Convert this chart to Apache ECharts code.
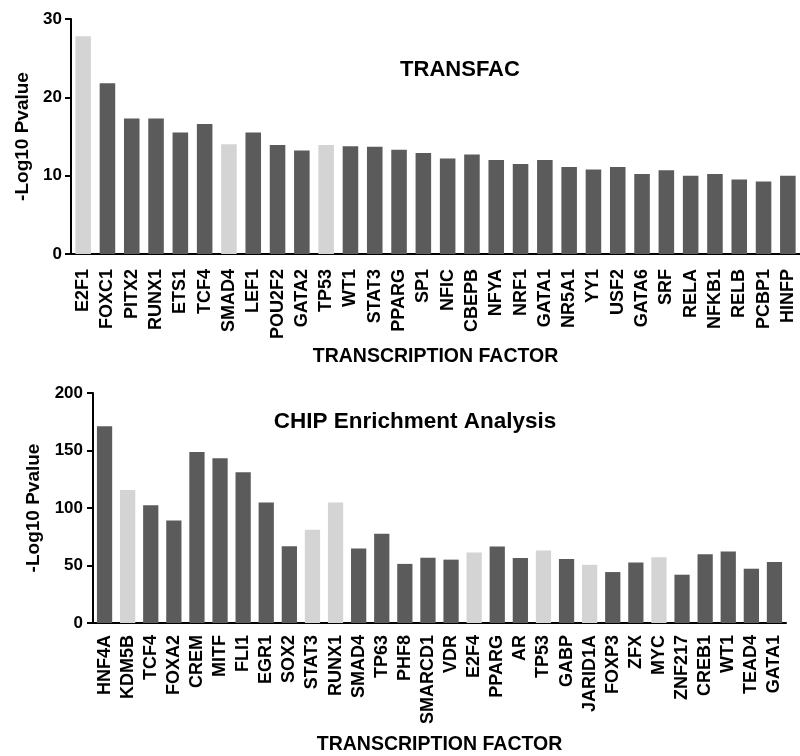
<!DOCTYPE html>
<html>
<head>
<meta charset="utf-8">
<script src="https://cdn.jsdelivr.net/npm/echarts@6/dist/echarts.min.js"></script>
<style>html,body{margin:0;padding:0;background:#fff}#c{width:800px;height:756px}</style>
</head>
<body>
<div id="c"></div>
<script>
var tfCategories = ['E2F1','FOXC1','PITX2','RUNX1','ETS1','TCF4','SMAD4','LEF1','POU2F2','GATA2','TP53','WT1','STAT3','PPARG','SP1','NFIC','CBEPB','NFYA','NRF1','GATA1','NR5A1','YY1','USF2','GATA6','SRF','RELA','NFKB1','RELB','PCBP1','HINFP'];
var tfValues = [27.8,21.8,17.3,17.3,15.5,16.6,14.0,15.5,13.9,13.2,13.9,13.75,13.7,13.3,12.9,12.2,12.7,12.0,11.5,12.0,11.1,10.8,11.1,10.2,10.7,10.0,10.2,9.5,9.25,10.0];
var tfHighlighted = ['E2F1','SMAD4','TP53'];
var tfTicks = [0,10,20,30];

var chipCategories = ['HNF4A','KDM5B','TCF4','FOXA2','CREM','MITF','FLI1','EGR1','SOX2','STAT3','RUNX1','SMAD4','TP63','PHF8','SMARCD1','VDR','E2F4','PPARG','AR','TP53','GABP','JARID1A','FOXP3','ZFX','MYC','ZNF217','CREB1','WT1','TEAD4','GATA1'];
var chipValues = [171,115.6,102.3,89.2,148.6,143.2,131,104.8,66.8,81,104.8,64.8,77.6,51.4,56.8,55.1,61.4,66.5,56.5,63,55.7,50.6,44.3,52.6,57.1,42,59.7,62.2,47.2,53.1];
var chipHighlighted = ['KDM5B','STAT3','RUNX1','E2F4','TP53','JARID1A','MYC'];
var chipTicks = [0,50,100,150,200];

var DARK = '#5b5b5b', LIGHT = '#d4d4d4';
var FONT = 'Liberation Sans, Arial, sans-serif';

function items(cats, vals, hi) {
  return vals.map(function (v, i) {
    return { value: v, itemStyle: { color: hi.indexOf(cats[i]) >= 0 ? LIGHT : DARK } };
  });
}

function xAx(gi, cats, gap, margin) {
  return {
    type: 'category', gridIndex: gi, data: cats,
    name: 'TRANSCRIPTION FACTOR', nameLocation: 'middle', nameGap: gap,
    nameTextStyle: { fontFamily: FONT, fontWeight: 'bold', fontSize: 19.5, color: '#000' },
    axisLine: { lineStyle: { color: '#000', width: 2 } },
    axisTick: { alignWithLabel: true, length: 6, lineStyle: { color: '#000', width: 2 } },
    axisLabel: { interval: 0, rotate: 90, margin: margin, fontFamily: FONT, fontWeight: 'bold', fontSize: 18, color: '#000' }
  };
}
function yAx(gi, max, interval, gap, margin) {
  return {
    type: 'value', gridIndex: gi, min: 0, max: max, interval: interval,
    name: '-Log10 Pvalue', nameLocation: 'middle', nameGap: gap,
    nameTextStyle: { fontFamily: FONT, fontWeight: 'bold', fontSize: 19, color: '#000' },
    splitLine: { show: false },
    axisLine: { show: true, lineStyle: { color: '#000', width: 2 } },
    axisTick: { show: true, length: 6, lineStyle: { color: '#000', width: 2 } },
    axisLabel: { margin: margin, fontFamily: FONT, fontWeight: 'bold', fontSize: 17, color: '#000' }
  };
}

var chart = echarts.init(document.getElementById('c'), null, { renderer: 'canvas' });
chart.setOption({
  backgroundColor: '#fff',
  animation: false,
  title: [
    { text: 'TRANSFAC', left: 455, top: 65, textAlign: 'center', textVerticalAlign: 'middle',
      textStyle: { fontFamily: FONT, fontWeight: 'bold', fontSize: 22, color: '#000' } },
    { text: 'CHIP Enrichment Analysis', left: 410, top: 417, textAlign: 'center', textVerticalAlign: 'middle',
      textStyle: { fontFamily: FONT, fontWeight: 'bold', fontSize: 22.5, color: '#000' } }
  ],
  grid: [
    { left: 71, right: -6, top: 19, height: 235 },
    { left: 93, right: 14, top: 393, height: 234 }
  ],
  xAxis: [xAx(0, tfCategories, 93, 15), xAx(1, chipCategories, 112, 12)],
  yAxis: [yAx(0, tfTicks[tfTicks.length - 1], tfTicks[1] - tfTicks[0], 38, 9), yAx(1, chipTicks[chipTicks.length - 1], chipTicks[1] - chipTicks[0], 46, 10)],
  series: [
    { type: 'bar', xAxisIndex: 0, yAxisIndex: 0, barCategoryGap: '36%', data: items(tfCategories, tfValues, tfHighlighted) },
    { type: 'bar', xAxisIndex: 1, yAxisIndex: 1, barCategoryGap: '34%', data: items(chipCategories, chipValues, chipHighlighted) }
  ]
});
</script>
</body>
</html>
